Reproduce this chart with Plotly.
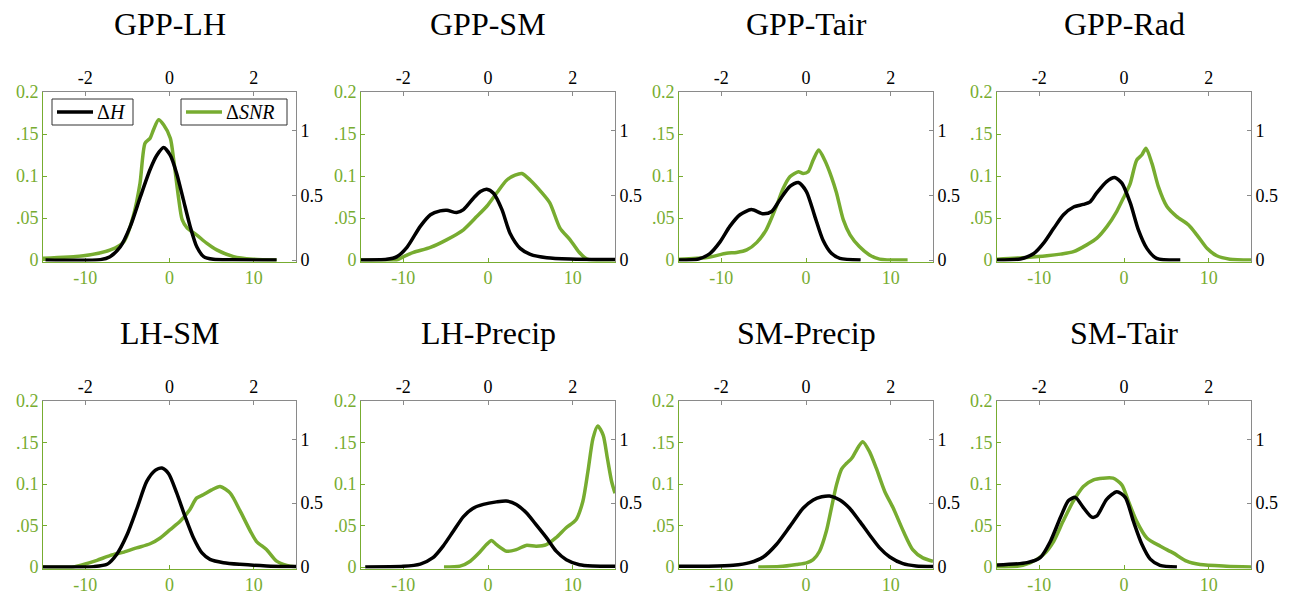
import plotly.graph_objects as go

W, H = 1297, 595
GREEN = "#77AC30"
GRAY = "#8a8a8a"
FONT = "'Liberation Serif', 'Times New Roman', 'DejaVu Serif', serif"

TITLES = ["GPP-LH", "GPP-SM", "GPP-Tair", "GPP-Rad", "LH-SM", "LH-Precip", "SM-Precip", "SM-Tair"]
LEGEND_LABELS = ["Δ<i>H</i>", "Δ<i>SNR</i>"]

# ---- Delta SNR (green, bottom x / left y) and Delta H (black, top x / right y) ----
GPP_LH_SNR_X = [-15, -10.2, -7.0, -5.4, -4.3, -3.5, -2.9, -2.3, -1.9, -1.3, -0.7, 0.1, 0.5, 1.1, 1.5, 2.1, 3.2, 4.4, 5.6, 7.6, 9.9, 12.7]
GPP_LH_SNR_Y = [0.002, 0.005, 0.012, 0.022, 0.052, 0.091, 0.139, 0.145, 0.155, 0.167, 0.161, 0.145, 0.119, 0.072, 0.048, 0.038, 0.030, 0.020, 0.012, 0.004, 0.001, 0.0]
GPP_LH_H_X = [-2.94, -1.64, -1.41, -1.17, -0.93, -0.69, -0.46, -0.30, -0.14, 0.02, 0.17, 0.33, 0.49, 0.65, 0.81, 1.04, 1.5, 2.54]
GPP_LH_H_Y = [0, 0.003, 0.026, 0.10, 0.26, 0.49, 0.70, 0.81, 0.87, 0.81, 0.67, 0.465, 0.26, 0.10, 0.026, 0.005, 0.001, 0]

GPP_SM_SNR_X = [-15, -10.75, -9.97, -8.8, -6.8, -4.9, -2.9, -1.3, -0.14, 1.04, 2.2, 3.2, 4.0, 5.0, 6.2, 7.3, 8.5, 9.7, 10.7, 11.7, 15]
GPP_SM_SNR_Y = [0, 0, 0.004, 0.009, 0.015, 0.024, 0.036, 0.052, 0.064, 0.080, 0.095, 0.101, 0.103, 0.095, 0.082, 0.068, 0.038, 0.024, 0.010, 0.001, 0]
GPP_SM_H_X = [-3, -2.39, -2.15, -1.91, -1.6, -1.36, -1.13, -0.97, -0.74, -0.58, -0.34, -0.18, -0.03, 0.13, 0.33, 0.52, 0.76, 1.0, 1.39, 1.94, 3.0]
GPP_SM_H_Y = [0, 0.005, 0.026, 0.10, 0.26, 0.35, 0.38, 0.385, 0.367, 0.39, 0.48, 0.53, 0.548, 0.517, 0.39, 0.207, 0.09, 0.044, 0.018, 0.008, 0.003]

GPP_TAIR_SNR_X = [-15, -11.7, -9.4, -8.2, -7.0, -5.8, -4.7, -3.5, -2.7, -1.9, -0.9, -0.34, 0.25, 0.85, 1.5, 2.2, 3.0, 3.6, 4.4, 5.2, 6.3, 7.5, 8.7, 12.0]
GPP_TAIR_SNR_Y = [0.001, 0.003, 0.008, 0.009, 0.012, 0.021, 0.036, 0.064, 0.085, 0.099, 0.105, 0.103, 0.105, 0.119, 0.131, 0.119, 0.099, 0.080, 0.048, 0.030, 0.016, 0.006, 0.001, 0]
GPP_TAIR_H_X = [-3, -2.54, -2.27, -2.03, -1.8, -1.56, -1.29, -1.01, -0.81, -0.62, -0.38, -0.18, 0.01, 0.21, 0.4, 0.6, 0.8, 1.29]
GPP_TAIR_H_Y = [0, 0.008, 0.05, 0.14, 0.26, 0.35, 0.39, 0.357, 0.375, 0.465, 0.57, 0.60, 0.53, 0.336, 0.155, 0.052, 0.013, 0]

GPP_RAD_SNR_X = [-15, -11.5, -9.1, -7.5, -5.96, -4.4, -3.2, -2.0, -0.85, -0.06, 0.73, 1.5, 2.1, 2.6, 3.3, 4.07, 5.05, 6.2, 7.6, 8.6, 9.8, 10.96, 12.5, 15]
GPP_RAD_SNR_Y = [0.001, 0.003, 0.005, 0.007, 0.010, 0.018, 0.026, 0.040, 0.058, 0.074, 0.091, 0.119, 0.125, 0.133, 0.115, 0.087, 0.064, 0.052, 0.042, 0.030, 0.014, 0.005, 0.001, 0]
GPP_RAD_H_X = [-3, -2.45, -2.13, -1.9, -1.66, -1.43, -1.19, -0.96, -0.8, -0.65, -0.41, -0.22, -0.05, 0.15, 0.34, 0.54, 0.77, 1.33]
GPP_RAD_H_Y = [0, 0.008, 0.05, 0.13, 0.245, 0.35, 0.41, 0.43, 0.45, 0.517, 0.607, 0.638, 0.595, 0.44, 0.233, 0.09, 0.013, 0]

LH_SM_SNR_X = [-15, -11.4, -10.2, -8.6, -7.0, -5.4, -3.9, -2.3, -1.1, 0.08, 1.26, 2.4, 3.2, 4.0, 5.0, 6.0, 7.2, 8.4, 9.6, 10.3, 11.5, 12.7, 13.9, 15]
LH_SM_SNR_Y = [0, 0, 0.003, 0.008, 0.014, 0.018, 0.023, 0.028, 0.035, 0.045, 0.055, 0.069, 0.083, 0.087, 0.093, 0.097, 0.089, 0.067, 0.043, 0.031, 0.021, 0.007, 0.002, 0]
LH_SM_H_X = [-3, -1.8, -1.48, -1.25, -1.01, -0.77, -0.54, -0.34, -0.18, -0.02, 0.17, 0.37, 0.57, 0.77, 0.96, 1.28, 1.67, 2.3, 3.0]
LH_SM_H_Y = [0, 0.003, 0.021, 0.10, 0.25, 0.46, 0.67, 0.757, 0.775, 0.73, 0.58, 0.395, 0.227, 0.11, 0.06, 0.034, 0.021, 0.008, 0.003]

LH_PRECIP_SNR_X = [-5.2, -3.3, -2.1, -0.96, -0.18, 0.41, 1.0, 2.2, 3.35, 4.5, 5.7, 6.9, 8.0, 9.2, 10.4, 11.2, 11.8, 12.4, 12.96, 13.6, 14.1, 14.6, 15]
LH_PRECIP_SNR_Y = [0, 0.001, 0.007, 0.018, 0.027, 0.032, 0.027, 0.019, 0.021, 0.026, 0.025, 0.027, 0.035, 0.047, 0.057, 0.079, 0.115, 0.155, 0.170, 0.159, 0.131, 0.103, 0.089]
LH_PRECIP_H_X = [-2.9, -2.0, -1.6, -1.3, -1.06, -0.82, -0.58, -0.35, -0.11, 0.2, 0.43, 0.67, 0.9, 1.14, 1.38, 1.61, 1.85, 2.16, 2.47, 3.0]
LH_PRECIP_H_Y = [0, 0.005, 0.023, 0.073, 0.164, 0.28, 0.395, 0.46, 0.49, 0.51, 0.517, 0.49, 0.426, 0.33, 0.23, 0.124, 0.057, 0.018, 0.008, 0.005]

SM_PRECIP_SNR_X = [-5.64, -3.1, -1.1, 0.06, 0.85, 1.6, 2.4, 3.0, 3.6, 4.2, 4.8, 5.4, 6.2, 6.7, 7.5, 8.3, 9.3, 10.3, 11.5, 12.6, 13.8, 15]
SM_PRECIP_SNR_Y = [0, 0.0005, 0.003, 0.005, 0.009, 0.019, 0.043, 0.071, 0.099, 0.118, 0.125, 0.131, 0.145, 0.151, 0.139, 0.119, 0.091, 0.071, 0.043, 0.021, 0.011, 0.007]
SM_PRECIP_H_X = [-3, -2.35, -1.72, -1.33, -1.01, -0.7, -0.38, -0.07, 0.17, 0.37, 0.56, 0.8, 1.03, 1.27, 1.5, 1.74, 1.98, 2.29, 2.6, 3.0]
SM_PRECIP_H_Y = [0.005, 0.006, 0.013, 0.034, 0.078, 0.176, 0.318, 0.46, 0.525, 0.55, 0.556, 0.525, 0.46, 0.357, 0.253, 0.15, 0.078, 0.026, 0.008, 0.003]

SM_TAIR_SNR_X = [-15, -12.6, -11.1, -9.5, -8.3, -7.2, -6.0, -4.8, -3.6, -2.5, -1.3, -0.26, 0.53, 1.5, 2.7, 4.3, 5.8, 7.4, 9.0, 12.1, 15]
SM_TAIR_SNR_Y = [0, 0.001, 0.005, 0.015, 0.031, 0.055, 0.079, 0.097, 0.105, 0.107, 0.107, 0.099, 0.079, 0.055, 0.035, 0.025, 0.017, 0.007, 0.003, 0.001, 0]
SM_TAIR_H_X = [-3, -2.29, -1.98, -1.74, -1.5, -1.31, -1.15, -0.96, -0.76, -0.64, -0.41, -0.17, 0.03, 0.22, 0.42, 0.62, 0.85, 1.25]
SM_TAIR_H_Y = [0.016, 0.034, 0.073, 0.2, 0.39, 0.52, 0.545, 0.465, 0.39, 0.40, 0.53, 0.59, 0.545, 0.36, 0.18, 0.062, 0.013, 0]

SNR_X = [GPP_LH_SNR_X, GPP_SM_SNR_X, GPP_TAIR_SNR_X, GPP_RAD_SNR_X, LH_SM_SNR_X, LH_PRECIP_SNR_X, SM_PRECIP_SNR_X, SM_TAIR_SNR_X]
SNR_Y = [GPP_LH_SNR_Y, GPP_SM_SNR_Y, GPP_TAIR_SNR_Y, GPP_RAD_SNR_Y, LH_SM_SNR_Y, LH_PRECIP_SNR_Y, SM_PRECIP_SNR_Y, SM_TAIR_SNR_Y]
DH_X = [GPP_LH_H_X, GPP_SM_H_X, GPP_TAIR_H_X, GPP_RAD_H_X, LH_SM_H_X, LH_PRECIP_H_X, SM_PRECIP_H_X, SM_TAIR_H_X]
DH_Y = [GPP_LH_H_Y, GPP_SM_H_Y, GPP_TAIR_H_Y, GPP_RAD_H_Y, LH_SM_H_Y, LH_PRECIP_H_Y, SM_PRECIP_H_Y, SM_TAIR_H_Y]

LEFT_TICKS = [0, 0.05, 0.1, 0.15, 0.2]
LEFT_TICKTEXT = ["0", ".05", "0.1", ".15", "0.2"]
RIGHT_TICKS = [0, 0.5, 1]
RIGHT_TICKTEXT = ["0", "0.5", "1"]
BOTTOM_TICKS = [-10, 0, 10]
BOTTOM_TICKTEXT = ["-10", "0", "10"]
TOP_TICKS = [-2, 0, 2]
TOP_TICKTEXT = ["-2", "0", "2"]

# ---- layout geometry (pixels) ----
COL_PX = [(43, 296), (361, 615), (679, 933), (997, 1251)]
ROW_PX = [(92, 260), (401, 567)]
PAD = 1.5  # px below zero so lines at zero are not clipped
LINE_W = 3.5


def px_x(p):
    return p / W


def px_y(p):
    return 1 - p / H


fig = go.Figure()
layout = {}
annotations = []
shapes = []

common_axis = dict(showgrid=False, zeroline=False, showline=True, linewidth=1,
                   ticks="inside", ticklen=4, automargin=False, layer="below traces")

for k in range(8):
    r, c = divmod(k, 4)
    x0, x1 = COL_PX[c]
    t, b = ROW_PX[r]
    xb, xt = 2 * k + 1, 2 * k + 2
    nb = "" if xb == 1 else str(xb)
    nt = str(xt)
    hpx = (b - t)
    ypad_l = 0.2 * PAD / hpx
    ypad_r = 1.3 * PAD / hpx
    dom_x = [px_x(x0), px_x(x1)]
    dom_y = [px_y(b + PAD), px_y(t)]
    tickfont_g = dict(family=FONT, size=18, color=GREEN)
    tickfont_k = dict(family=FONT, size=18, color="black")

    layout["xaxis" + nb] = dict(domain=dom_x, anchor="y" + nb, range=[-15, 15],
                                tickvals=BOTTOM_TICKS, ticktext=BOTTOM_TICKTEXT,
                                linecolor=GREEN, tickcolor=GREEN,
                                tickfont=tickfont_g, **common_axis)
    layout["xaxis" + nt] = dict(overlaying="x" + nb, anchor="y" + nt, side="top",
                                range=[-3, 3], tickvals=TOP_TICKS, ticktext=TOP_TICKTEXT,
                                linecolor=GRAY, tickcolor=GRAY,
                                tickfont=tickfont_k, **common_axis)
    layout["yaxis" + nb] = dict(domain=dom_y, anchor="x" + nb, range=[-ypad_l, 0.2],
                                tickvals=LEFT_TICKS, ticktext=LEFT_TICKTEXT,
                                linecolor=GREEN, tickcolor=GREEN,
                                tickfont=tickfont_g, **common_axis)
    layout["yaxis" + nt] = dict(overlaying="y" + nb, anchor="x" + nt, side="right",
                                range=[-ypad_r, 1.3], tickvals=RIGHT_TICKS,
                                ticktext=RIGHT_TICKTEXT,
                                linecolor=GRAY, tickcolor=GRAY,
                                tickfont=tickfont_k, **common_axis)

    fig.add_trace(go.Scatter(x=SNR_X[k], y=SNR_Y[k], mode="lines",
                             line=dict(color=GREEN, width=LINE_W, shape="spline", smoothing=0.7),
                             xaxis="x" + nb, yaxis="y" + nb,
                             name="ΔSNR", showlegend=False))
    fig.add_trace(go.Scatter(x=DH_X[k], y=DH_Y[k], mode="lines",
                             line=dict(color="black", width=LINE_W, shape="spline", smoothing=0.7),
                             xaxis="x" + nt, yaxis="y" + nt,
                             name="ΔH", showlegend=False))

    annotations.append(dict(text=TITLES[k], x=px_x((x0 + x1) / 2), y=px_y(t - 68),
                            xref="paper", yref="paper", xanchor="center", yanchor="middle",
                            showarrow=False, font=dict(family=FONT, size=32, color="black")))

# ---- legend boxes (first panel), drawn as in the MATLAB figure ----
LEG_BOXES = [(52, 133), (181, 287)]
LEG_COLORS = ["black", GREEN]
LEG_TOP, LEG_BOT = 99, 125
for (lx0, lx1), col, lab in zip(LEG_BOXES, LEG_COLORS, LEGEND_LABELS):
    shapes.append(dict(type="rect", xref="paper", yref="paper",
                       x0=px_x(lx0), x1=px_x(lx1), y0=px_y(LEG_BOT), y1=px_y(LEG_TOP),
                       line=dict(color="#333333", width=1), fillcolor="white", layer="above"))
    ym = px_y((LEG_TOP + LEG_BOT) / 2)
    shapes.append(dict(type="line", xref="paper", yref="paper",
                       x0=px_x(lx0 + 5), x1=px_x(lx0 + 41), y0=ym, y1=ym,
                       line=dict(color=col, width=LINE_W), layer="above"))
    annotations.append(dict(text=lab, x=px_x(lx0 + 43), y=ym, xref="paper", yref="paper",
                            xanchor="left", yanchor="middle", showarrow=False,
                            font=dict(family=FONT, size=20, color="black")))

fig.update_layout(
    width=W, height=H, margin=dict(l=0, r=0, t=0, b=0, autoexpand=False),
    paper_bgcolor="white", plot_bgcolor="white", showlegend=False,
    annotations=annotations, shapes=shapes,
    **layout,
)

fig.write_html("out.html", config={"displayModeBar": False},
               post_script="document.body.style.margin='0';document.body.style.overflow='hidden';")
